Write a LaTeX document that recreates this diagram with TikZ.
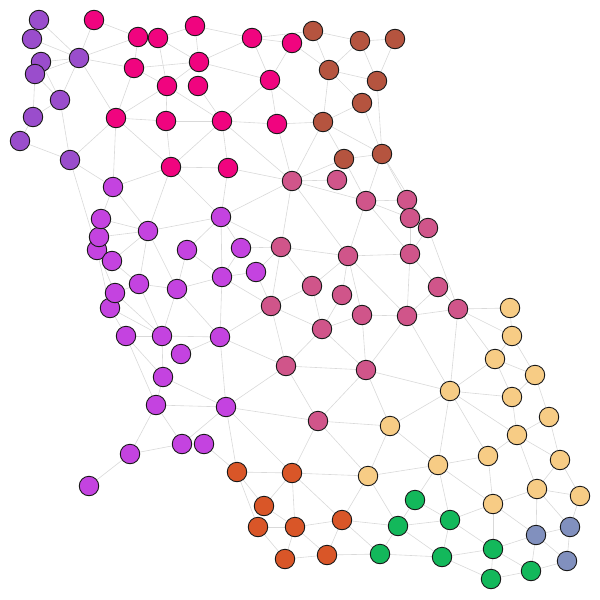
\documentclass[tikz,border=0pt]{standalone}
\usetikzlibrary{backgrounds}

\definecolor{lilac}{HTML}{9A4DCC}
\definecolor{hotpink}{HTML}{F0047F}
\definecolor{rust}{HTML}{B5543F}
\definecolor{rose}{HTML}{D0558A}
\definecolor{orchid}{HTML}{C443E0}
\definecolor{ember}{HTML}{D95628}
\definecolor{sand}{HTML}{F7CC85}
\definecolor{jade}{HTML}{13B85B}
\definecolor{slate}{HTML}{8190BE}

\begin{document}
\begin{tikzpicture}[
  x=1pt, y=-1pt,
  vertex/.style={circle, draw=black!90, line width=0.9pt, minimum size=19.5pt, inner sep=0pt},
  link/.style={draw=black!15, line width=0.6pt}
]

\useasboundingbox (0,0) rectangle (600,600);

% Communities, one colour each.
\foreach \n/\x/\y in {P1/39/20, P2/32/39, P3/41/62, P4/35/74, P5/79/58,
    P6/60/100, P7/33/117, P8/20/141, P9/70/160}
  \node[vertex, fill=lilac] (\n) at (\x,\y) {};

\foreach \n/\x/\y in {M1/94/20, M2/138/37, M3/158/38, M4/195/26, M5/134/68,
    M6/199/62, M7/167/86, M8/198/86, M9/116/118, M10/166/121, M11/222/121,
    M12/252/38, M13/292/43, M14/270/80, M15/277/124, M16/171/167, M17/228/168}
  \node[vertex, fill=hotpink] (\n) at (\x,\y) {};

\foreach \n/\x/\y in {B1/313/31, B2/360/41, B3/395/39, B4/329/70, B5/377/81,
    B6/362/103, B7/323/122, B8/344/159, B9/382/154}
  \node[vertex, fill=rust] (\n) at (\x,\y) {};

\foreach \n/\x/\y in {R1/292/181, R2/337/180, R3/366/201, R4/407/200,
    R5/410/218, R6/428/228, R7/281/247, R8/348/256, R9/410/254, R10/312/286,
    R11/342/295, R12/271/306, R13/438/287, R14/458/309, R15/322/329,
    R16/362/315, R17/407/316, R18/286/366, R19/366/370, R20/318/421}
  \node[vertex, fill=rose] (\n) at (\x,\y) {};

\foreach \n/\x/\y in {V1/113/187, V2/221/217, V6/97/250, V5/99/237, V3/101/219,
    V4/148/231, V7/187/250, V8/112/261, V9/241/248, V10/256/272, V11/222/277,
    V12/139/284, V13/177/289, V15/110/308, V14/115/293, V16/126/336,
    V17/162/336, V18/220/337, V19/181/354, V20/163/377, V21/156/405,
    V22/226/407, V23/182/444, V24/204/444, V25/130/454, V26/89/486}
  \node[vertex, fill=orchid] (\n) at (\x,\y) {};

\foreach \n/\x/\y in {O1/237/472, O2/292/473, O3/264/506, O4/258/527,
    O5/295/527, O6/342/520, O7/285/559, O8/327/555}
  \node[vertex, fill=ember] (\n) at (\x,\y) {};

\foreach \n/\x/\y in {Y1/510/308, Y2/512/336, Y3/495/359, Y4/535/375,
    Y5/450/391, Y6/512/397, Y7/549/417, Y8/390/426, Y9/517/435, Y10/438/465,
    Y11/488/456, Y12/560/460, Y13/368/476, Y14/537/489, Y15/493/504, Y16/580/496}
  \node[vertex, fill=sand] (\n) at (\x,\y) {};

\foreach \n/\x/\y in {G1/415/500, G2/450/520, G3/398/526, G4/380/554,
    G5/442/557, G6/493/549, G7/531/571, G8/491/579}
  \node[vertex, fill=jade] (\n) at (\x,\y) {};

\foreach \n/\x/\y in {S1/536/535, S2/570/527, S3/567/561}
  \node[vertex, fill=slate] (\n) at (\x,\y) {};

% Edges go behind the vertices.
\begin{scope}[on background layer]
\foreach \a/\b in {P1/P5, P2/P5, P3/P5, P4/P5, P3/P6, P4/P6, P5/P6, P4/P7,
    P6/P7, P7/P8, P8/P9, P6/P9, P5/M1, P5/M2, P5/M5, P5/M9, P9/M9, P9/V1,
    P9/V6,
    M1/M2, M2/M5, M3/M4, M3/M6, M3/M7, M4/M6, M5/M6, M5/M7, M6/M7, M5/M9,
    M7/M9, M7/M10, M7/M11, M9/M10, M9/M16, M9/V1, M10/M16, M10/M11, M16/M17,
    M16/V1, M16/V2, M16/V4, M16/M11, M4/M12, M6/M12, M6/M14, M12/M13, M12/B1,
    M12/M14, M13/M14, M13/B4, M14/M11, M14/M15, M14/B7, M8/M11, M11/M15,
    M11/M17, M11/R1, M15/R1, M15/B7, M17/R1, M17/V2,
    B1/B2, B1/B4, B2/B3, B2/B4, B2/B5, B3/B5, B4/B5, B4/B6, B4/B7, B6/B7,
    B5/B9, B6/B9, B7/B9, B7/B8, B8/B9, B7/R1, B8/R1, B8/R3, B9/R3, B9/R4,
    B9/R6}
  \draw[link] (\a) -- (\b);
\foreach \a/\b in {R1/R2, R1/R3, R1/R7, R1/R8, R1/V2, R3/R4, R3/R5, R3/R8,
    R3/R9, R5/R9, R6/R9, R6/R14, R7/R8, R7/R10, R7/R12, R7/V2, R7/V9, R7/V10,
    R8/R9, R8/R10, R8/R11, R8/R16, R8/R17, R9/R13, R9/R17, R10/R12, R10/R15,
    R11/R15, R12/R15, R12/R18, R12/V10, R12/V11, R12/V18, R13/R14, R13/R17,
    R14/R17, R14/Y1, R14/Y2, R14/Y3, R14/Y5, R15/R16, R15/R18, R15/R19,
    R16/R17, R16/R19, R17/R19, R17/Y5, R18/R19, R18/R20, R18/V18, R18/V22,
    R19/R20, R19/Y5, R19/Y8, R20/V22, R20/O2, R20/Y8, R20/Y13}
  \draw[link] (\a) -- (\b);
\foreach \a/\b in {V1/V3, V1/V4, V3/V4, V5/V4, V4/V8, V4/V12, V4/V13, V4/V2,
    V7/V13, V7/V2, V7/V11, V12/V13, V12/V17, V13/V17, V13/V11, V13/V18,
    V8/V12, V12/V14, V14/V17, V15/V17, V15/V16, V16/V17, V16/V20, V16/V21,
    V17/V20, V17/V18, V20/V21, V20/V22, V6/V15, V6/V14, V2/V9, V2/V11, V9/V11,
    V10/V11, V11/V18, V18/V19, V18/V22, V21/V22, V21/V25, V21/V23, V23/V25,
    V25/V26, V23/V22, V24/O1, V22/O1, V22/O2}
  \draw[link] (\a) -- (\b);
\foreach \a/\b in {O1/O2, O1/O3, O1/O4, O2/O3, O2/O5, O2/O6, O2/Y13, O3/O5,
    O4/O5, O4/O7, O5/O7, O5/O6, O5/O8, O6/O8, O6/Y13, O6/G3, O6/G4, O7/O8,
    O8/G4,
    Y1/Y2, Y2/Y3, Y2/Y4, Y3/Y4, Y3/Y5, Y3/Y6, Y4/Y6, Y4/Y7, Y5/Y6, Y5/Y8,
    Y5/Y10, Y5/Y11, Y5/Y9, Y6/Y9, Y7/Y9, Y7/Y12, Y9/Y11, Y9/Y12, Y9/Y14,
    Y11/Y10, Y11/Y15, Y10/Y15, Y10/G1, Y10/G2, Y10/Y13, Y8/Y10, Y8/Y13,
    Y12/Y14, Y12/Y16, Y14/Y16, Y14/Y15, Y14/S1, Y14/S2, Y16/S2, Y15/G2,
    Y15/G6, Y15/S1, Y13/G3,
    G1/G2, G1/G3, G2/G3, G2/G5, G2/G6, G3/G5, G3/G4, G4/G5, G5/G6, G5/G8,
    G6/G8, G6/S1, G6/G7, G7/G8, G7/S1, G7/S3, S1/S2, S1/S3, S2/S3}
  \draw[link] (\a) -- (\b);
\end{scope}

\end{tikzpicture}
\end{document}
